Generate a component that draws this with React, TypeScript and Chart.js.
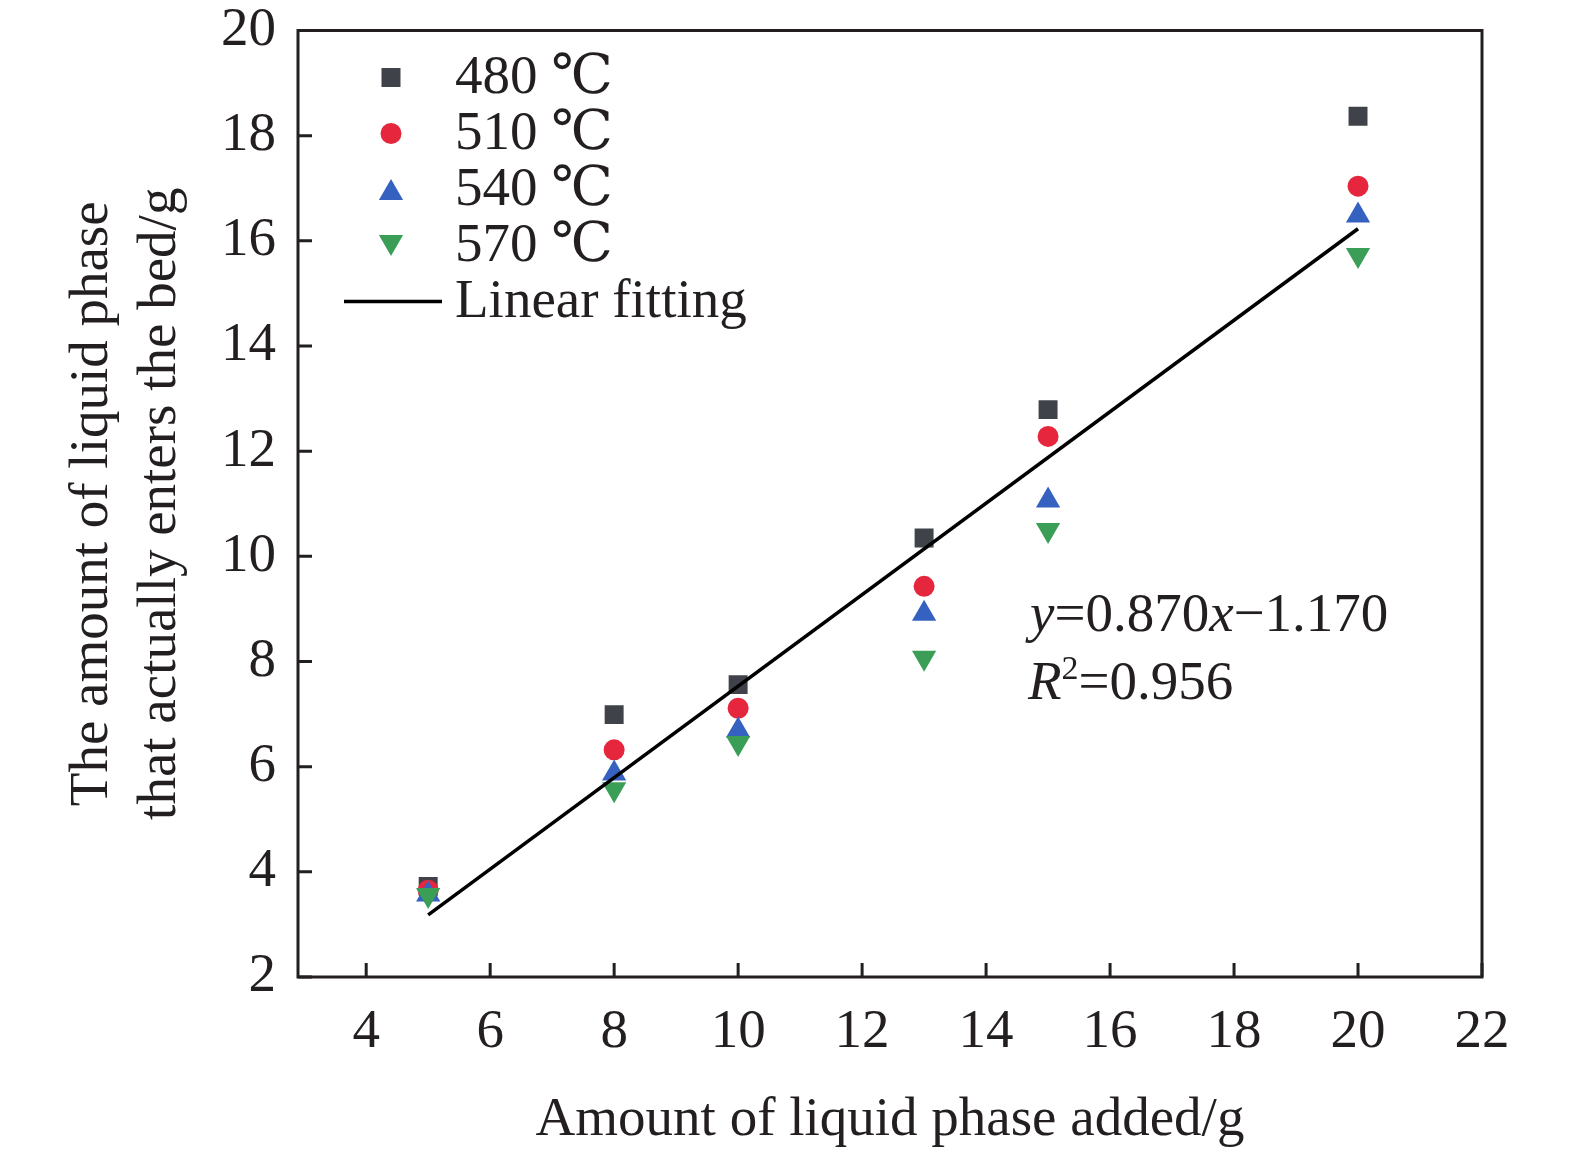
import { useEffect, useRef } from 'react'
import { Chart, registerables } from 'chart.js'

Chart.register(...registerables)

const FONT = '"Liberation Serif", "Times New Roman", "DejaVu Serif", "Noto Sans CJK SC", serif'
const INK = '#231f20'

// amount added (g) and measured amount entering the bed (g), per temperature
const xAdded = [5, 8, 10, 13, 15, 20]
const y480 = [3.72, 6.99, 7.56, 10.35, 12.79, 18.37]
const y510 = [3.65, 6.32, 7.11, 9.43, 12.28, 17.04]
const y540 = [3.57, 5.87, 6.69, 8.91, 11.06, 16.48]
const y570 = [3.56, 5.57, 6.45, 8.07, 10.5, 15.73]

const fitX = [5, 20]
const fitY = [3.18, 16.23]

const seriesLabels = ['480 ℃', '510 ℃', '540 ℃', '570 ℃']
const seriesColors = ['#404249', '#e6263c', '#3562c0', '#3a9e57']
const fitLabel = 'Linear fitting'

const xTicks = [4, 6, 8, 10, 12, 14, 16, 18, 20, 22]
const yTicks = [2, 4, 6, 8, 10, 12, 14, 16, 18, 20]

const xTitle = 'Amount of liquid phase added/g'
const yTitle = ['The amount of liquid phase', 'that actually enters the bed/g']

const pts = (ys: number[]) => xAdded.map((x, i) => ({ x, y: ys[i] }))

function legendMarker(ctx: CanvasRenderingContext2D, kind: string, x: number, y: number, color: string) {
  ctx.fillStyle = color
  ctx.beginPath()
  if (kind === 'rect') {
    ctx.rect(x - 9.5, y - 9.5, 19, 19)
  } else if (kind === 'circle') {
    ctx.arc(x, y, 10.5, 0, Math.PI * 2)
  } else if (kind === 'up') {
    ctx.moveTo(x, y - 10.5)
    ctx.lineTo(x + 12.1, y + 10.5)
    ctx.lineTo(x - 12.1, y + 10.5)
  } else {
    ctx.moveTo(x, y + 10.5)
    ctx.lineTo(x + 12.1, y - 10.5)
    ctx.lineTo(x - 12.1, y - 10.5)
  }
  ctx.closePath()
  ctx.fill()
}

// frame, inward ticks, legend and fit equation
const decor = {
  id: 'decor',
  beforeDatasetsDraw(chart: any) {
    const { ctx, chartArea: a, scales } = chart
    ctx.save()
    ctx.strokeStyle = INK
    ctx.lineWidth = 3
    ctx.strokeRect(a.left, a.top, a.right - a.left, a.bottom - a.top)
    ctx.beginPath()
    for (const v of yTicks) {
      const py = scales.y.getPixelForValue(v)
      ctx.moveTo(a.left, py)
      ctx.lineTo(a.left + 14, py)
    }
    for (const v of xTicks) {
      const px = scales.x.getPixelForValue(v)
      ctx.moveTo(px, a.bottom)
      ctx.lineTo(px, a.bottom - 14)
    }
    ctx.stroke()
    ctx.restore()
  },
  afterDraw(chart: any) {
    const { ctx, chartArea: a } = chart
    ctx.save()
    const mx = a.left + 93
    const tx = a.left + 157
    const kinds = ['rect', 'circle', 'up', 'down']
    ctx.textBaseline = 'alphabetic'
    ctx.textAlign = 'left'
    seriesLabels.forEach((label, i) => {
      const cy = a.top + 47 + i * 56
      legendMarker(ctx, kinds[i], mx, cy, seriesColors[i])
      ctx.fillStyle = INK
      ctx.font = `55px ${FONT}`
      ctx.fillText(label, tx, cy + 15)
    })
    const ly = a.top + 47 + 4 * 56
    ctx.strokeStyle = '#000'
    ctx.lineWidth = 3.5
    ctx.beginPath()
    ctx.moveTo(a.left + 46, ly)
    ctx.lineTo(a.left + 144, ly)
    ctx.stroke()
    ctx.fillStyle = INK
    ctx.font = `55px ${FONT}`
    ctx.fillText(fitLabel, tx, ly + 15)

    // equation
    const parts: [string, boolean][] = [['y', true], ['=0.870', false], ['x', true], ['\u22121.170', false]]
    let ex = a.left + 732
    const ey = a.top + 600
    for (const [s, it] of parts) {
      ctx.font = `${it ? 'italic ' : ''}55px ${FONT}`
      ctx.fillText(s, ex, ey)
      ex += ctx.measureText(s).width
    }
    let rx = a.left + 730
    const ry = ey + 68
    ctx.font = `italic 55px ${FONT}`
    ctx.fillText('R', rx, ry)
    rx += ctx.measureText('R').width
    ctx.font = `34px ${FONT}`
    ctx.fillText('2', rx, ry - 20)
    rx += ctx.measureText('2').width
    ctx.font = `55px ${FONT}`
    ctx.fillText('=0.956', rx, ry)
    ctx.restore()
  },
}

export default function App() {
  const ref = useRef<HTMLCanvasElement>(null)
  useEffect(() => {
    document.body.style.margin = '0'
    if (!ref.current) return
    const tickFont = { family: FONT, size: 55, lineHeight: 1 }
    const chart = new Chart(ref.current, {
      type: 'scatter',
      data: {
        datasets: [
          { type: 'line', label: fitLabel, data: fitX.map((x, i) => ({ x, y: fitY[i] })), borderColor: '#000', borderWidth: 3.5, pointRadius: 0, fill: false, order: 0 },
          { label: seriesLabels[3], data: pts(y570), pointStyle: 'triangle', pointRotation: 180, pointRadius: 14, pointBackgroundColor: seriesColors[3], pointBorderWidth: 0, order: 1 },
          { label: seriesLabels[2], data: pts(y540), pointStyle: 'triangle', pointRadius: 14, pointBackgroundColor: seriesColors[2], pointBorderWidth: 0, order: 2 },
          { label: seriesLabels[1], data: pts(y510), pointStyle: 'circle', pointRadius: 10.5, pointBackgroundColor: seriesColors[1], pointBorderWidth: 0, order: 3 },
          { label: seriesLabels[0], data: pts(y480), pointStyle: 'rect', pointRadius: 13.4, pointBackgroundColor: seriesColors[0], pointBorderWidth: 0, order: 4 },
        ] as any,
      },
      options: {
        responsive: false,
        animation: false,
        layout: { padding: { top: 30.5, right: 93, left: 0, bottom: 0 } },
        plugins: { legend: { display: false }, tooltip: { enabled: false } },
        scales: {
          x: {
            type: 'linear',
            min: 2.9,
            max: 22,
            afterBuildTicks: (s: any) => { s.ticks = xTicks.map((value) => ({ value })) },
            afterFit: (s: any) => { s.height = 176; s.paddingLeft = 0; s.paddingRight = 0 },
            grid: { display: false },
            border: { display: false },
            ticks: { font: tickFont, color: INK, padding: 20, maxRotation: 0, autoSkip: false },
            title: { display: true, text: xTitle, font: tickFont, color: INK, padding: { top: 0, bottom: 5 } },
          },
          y: {
            type: 'linear',
            min: 2,
            max: 20,
            afterBuildTicks: (s: any) => { s.ticks = yTicks.map((value) => ({ value })) },
            afterFit: (s: any) => { s.width = 298; s.paddingTop = 0; s.paddingBottom = 0 },
            grid: { display: false },
            border: { display: false },
            ticks: { font: tickFont, color: INK, padding: 14, autoSkip: false },
            title: { display: true, text: yTitle, font: { family: FONT, size: 55, lineHeight: 68 / 55 }, color: INK, padding: { top: 59, bottom: 0 } },
          },
        },
      },
      plugins: [decor],
    })
    return () => chart.destroy()
  }, [])
  return <canvas ref={ref} width={1575} height={1153} />
}
